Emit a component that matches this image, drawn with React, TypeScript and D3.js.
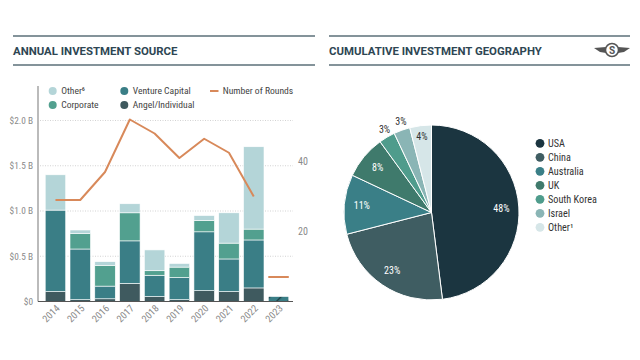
import React from "react";
import * as d3 from "d3";

const years = ["2014","2015","2016","2017","2018","2019","2020","2021","2022","2023"];
const angel = [0.11, 0.02, 0.03, 0.20, 0.055, 0.02, 0.12, 0.11, 0.15, 0.0];
const venture = [0.90, 0.56, 0.14, 0.47, 0.235, 0.245, 0.65, 0.36, 0.53, 0.055];
const corporate = [0.0, 0.17, 0.23, 0.31, 0.05, 0.115, 0.125, 0.175, 0.12, 0.0];
const other = [0.39, 0.04, 0.04, 0.10, 0.23, 0.04, 0.055, 0.335, 0.91, 0.0];
const rounds = [29, 29, 37, 52, 48, 41, 46.5, 42.5, 30, 7];
const partialYears = ["2023"];
const leftTicks = [0, 0.5, 1.0, 1.5, 2.0];
const leftTickLabels = ["$0", "$0.5 B", "$1.0 B", "$1.5 B", "$2.0 B"];
const rightTicks = [20, 40];

const countries = ["USA","China","Australia","UK","South Korea","Israel","Other¹"];
const shares = [48, 23, 11, 8, 3, 3, 4];

const seriesKeys = ["angel","venture","corporate","other"];
const seriesColors: Record<string,string> = {
  angel: "#3f5a5f", venture: "#3a7e86", corporate: "#52a08f", other: "#b4d5d8",
};
const pieColors = ["#1b3540","#3f5d62","#3a7f87","#3f7a6c","#4f9c8c","#8ab5b5","#d6e6e8"];
const FONT = "'Roboto Condensed', 'Liberation Sans Narrow', Roboto, sans-serif";

export default function App() {
  const rows = years.map((y, i) => ({
    year: y, angel: angel[i], venture: venture[i], corporate: corporate[i], other: other[i],
  }));
  const stack = d3.stack<any>().keys(seriesKeys)(rows);
  const x = d3.scaleBand().domain(years).range([41, 293]).paddingInner(0.173).paddingOuter(0.17);
  const y = d3.scaleLinear().domain([0, 2]).range([301.5, 120.5]);
  const yR = d3.scaleLinear().domain([0, 20]).range([301.5, 231.5]);
  const bw = x.bandwidth();

  const fullIdx = years.map((_, i) => i).filter(i => !partialYears.includes(years[i]));
  const line = d3.line<number>().x(i => (x(years[i]) as number) + bw / 2).y(i => yR(rounds[i]));

  const pie = d3.pie<number>().sort(null).value(d => d)(shares);
  const cx = 431.5, cy = 212.5, R = 87.5;
  const arc = d3.arc<any>().innerRadius(0).outerRadius(R);

  return (
    <svg width={640} height={360} style={{ position: "absolute", left: 0, top: 0, fontFamily: FONT }}>
      <defs>
        <pattern id="hatch" patternUnits="userSpaceOnUse" width="8" height="8" patternTransform="rotate(45)">
          <rect width="8" height="8" fill="#3a7e86" />
          <rect width="1.3" height="8" fill="#1c3a40" />
        </pattern>
      </defs>
      <rect width={640} height={360} fill="#fff" />

      {/* Left header */}
      <line x1={13} x2={315} y1={36} y2={36} stroke="#5b6f79" strokeWidth={1.3} />
      <line x1={13} x2={315} y1={65} y2={65} stroke="#5b6f79" strokeWidth={1.3} />
      <text x={13} y={54.5} fontSize={11.4} fontWeight={700} fill="#2e4653" fontFamily="Roboto, sans-serif">ANNUAL INVESTMENT SOURCE</text>

      {/* Right header */}
      <line x1={329} x2={630} y1={36} y2={36} stroke="#5b6f79" strokeWidth={1.3} />
      <line x1={329} x2={630} y1={65} y2={65} stroke="#5b6f79" strokeWidth={1.3} />
      <text x={329} y={54.5} fontSize={11.4} fontWeight={700} fill="#2e4653" fontFamily="Roboto, sans-serif">CUMULATIVE INVESTMENT GEOGRAPHY</text>
      <g transform="translate(612,50)" fill="#555">
        <path d="M-18,-2 L-6,-3 L-6,3 L-12,2 Z" />
        <path d="M18,-2 L6,-3 L6,3 L12,2 Z" />
        <circle r={6.5} fill="#fff" stroke="#555" strokeWidth={1.5} />
        <text y={3.5} textAnchor="middle" fontSize={10} fontWeight={700} fill="#555" fontFamily="Roboto, sans-serif">S</text>
      </g>

      {/* Legend left */}
      <line x1={38} x2={38} y1={86} y2={301.5} stroke="#bbbbbb" strokeWidth={2} />
      {[
        { label: "Other⁶", c: seriesColors.other, x: 52.7, y: 91 },
        { label: "Corporate", c: seriesColors.corporate, x: 52.7, y: 105 },
        { label: "Venture Capital", c: seriesColors.venture, x: 124.3, y: 91 },
        { label: "Angel/Individual", c: seriesColors.angel, x: 124.3, y: 105 },
      ].map(d => (
        <g key={d.label}>
          <circle cx={d.x} cy={d.y} r={4} fill={d.c} />
          <text x={d.x + 8.5} y={d.y + 3.4} fontSize={9.6} fill="#444">{d.label}</text>
        </g>
      ))}
      <line x1={210} x2={218.5} y1={91} y2={91} stroke="#d8895a" strokeWidth={2} />
      <text x={222.7} y={94.4} fontSize={9.6} fill="#444">Number of Rounds</text>

      {/* Grid */}
      {leftTicks.slice(1).map(t => (
        <line key={t} x1={40} x2={293} y1={y(t)} y2={y(t)} stroke="#c8c8c8" strokeWidth={0.8} strokeDasharray="1,1.5" />
      ))}
      {leftTicks.map((t, i) => (
        <text key={t} x={33} y={y(t) + 3.3} textAnchor="end" fontSize={9.3} fill="#8a8a8a">{leftTickLabels[i]}</text>
      ))}
      {rightTicks.map(t => (
        <text key={t} x={298} y={yR(t) + 3.5} fontSize={10} fill="#8a8a8a">{t}</text>
      ))}

      {/* Bars */}
      {stack.map(s => (
        <g key={s.key}>
          {s.map((d, i) => {
            const h = y(d[0]) - y(d[1]);
            if (h <= 0) return null;
            const partial = partialYears.includes(years[i]);
            return (
              <rect key={i} x={x(years[i])} y={y(d[1])} width={bw} height={h}
                fill={partial ? "url(#hatch)" : seriesColors[s.key]} stroke="#fff" strokeWidth={0.6} />
            );
          })}
        </g>
      ))}
      <line x1={38} x2={293} y1={301.5} y2={301.5} stroke="#555" strokeWidth={1} />

      {/* Rounds line */}
      <path d={line(fullIdx) || ""} fill="none" stroke="#d8895a" strokeWidth={2} strokeLinejoin="round" />
      {years.map((yr, i) => partialYears.includes(yr) ? (
        <line key={yr} x1={x(yr)} x2={(x(yr) as number) + bw} y1={yR(rounds[i])} y2={yR(rounds[i])} stroke="#d8895a" strokeWidth={2} />
      ) : null)}

      {/* X labels */}
      {years.map(yr => {
        const px = (x(yr) as number) + bw / 2 + 5;
        const py = 309;
        return (
          <text key={yr} transform={`translate(${px},${py}) rotate(-45)`} textAnchor="end" fontSize={10} fill="#8a8a8a">{yr}</text>
        );
      })}

      {/* Pie */}
      <g transform={`translate(${cx},${cy})`}>
        {pie.map((p, i) => (
          <path key={i} d={arc(p) || ""} fill={pieColors[i]} stroke="#fff" strokeWidth={1} />
        ))}
        {pie.map((p, i) => {
          const a = (p.startAngle + p.endAngle) / 2;
          const v = shares[i];
          const rr = v <= 3 ? R * 1.1 : v < 5 ? R * 0.87 : R * 0.8;
          const lx = Math.sin(a) * rr, ly = -Math.cos(a) * rr;
          const fill = v <= 4 ? "#333" : "#fff";
          return (
            <text key={i} x={lx + (v <= 3 ? 2 : 0)} y={ly + 3.5} textAnchor="middle" fontSize={10} fill={fill}>{v}%</text>
          );
        })}
      </g>

      {/* Pie legend */}
      {countries.map((c, i) => (
        <g key={c}>
          <circle cx={540} cy={143.3 + i * 14} r={4.4} fill={pieColors[i]} />
          <text x={548} y={143.3 + i * 14 + 3.6} fontSize={10.2} fill="#333">{c}</text>
        </g>
      ))}
    </svg>
  );
}
